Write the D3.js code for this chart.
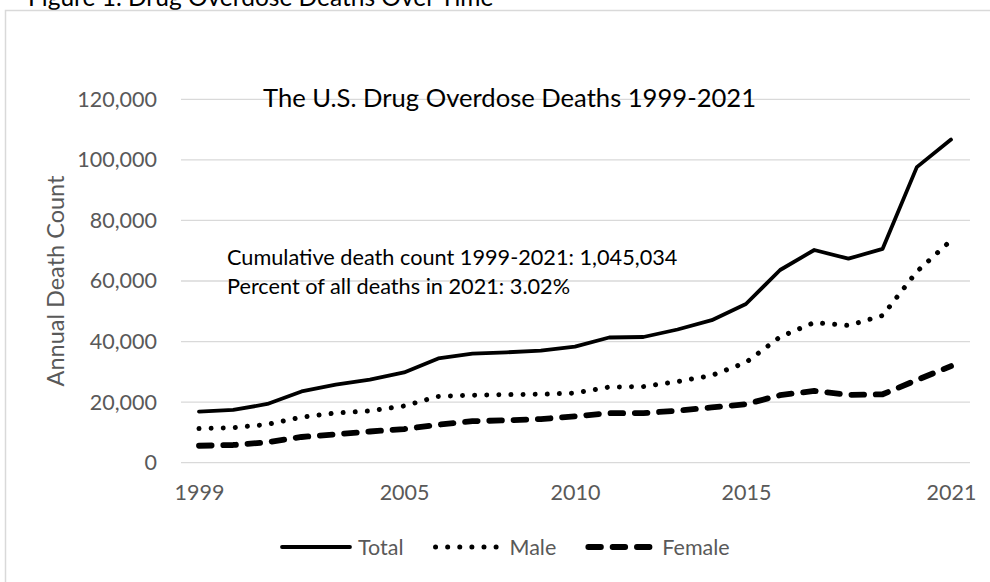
<!DOCTYPE html>
<html>
<head>
<meta charset="utf-8">
<script src="https://cdn.jsdelivr.net/npm/d3@7"></script>
<style>
  html, body { margin: 0; padding: 0; background: #fff; }
  svg { display: block; font-family: Lato, "Open Sans", sans-serif; }
</style>
</head>
<body>
<svg id="chart" width="990" height="582"></svg>
<script>
// ---- data ----
const years = [1999,2000,2001,2002,2003,2004,2005,2006,2007,2008,2009,2010,2011,2012,2013,2014,2015,2016,2017,2018,2019,2020,2021];
const totalDeaths  = [16849,17415,19394,23518,25785,27424,29813,34425,36010,36450,37004,38329,41340,41502,43982,47055,52404,63632,70237,67367,70630,97600,106699];
const maleDeaths   = [11258,11563,12658,15028,16399,17120,18724,21893,22298,22468,22593,23006,24987,25117,26799,28812,33091,41558,46300,45300,48600,63100,73400];
const femaleDeaths = [5591,5852,6736,8490,9386,10304,11089,12532,13712,13982,14411,15323,16353,16385,17183,18243,19313,22300,23700,22400,22600,27300,31900];
const seriesNames  = ["Total","Male","Female"];
const yTicks = [0,20000,40000,60000,80000,100000,120000];
const xTickYears = [1999,2005,2010,2015,2021];
const figureTitle = "Figure 1. Drug Overdose Deaths Over Time";
const chartTitle = "The U.S. Drug Overdose Deaths 1999-2021";
const yAxisTitle = "Annual Death Count";
const notes = ["Cumulative death count 1999-2021: 1,045,034", "Percent of all deaths in 2021: 3.02%"];

// ---- layout ----
const svg = d3.select("#chart");
const plot = {left: 181, right: 970, top: 99.3, bottom: 462.7};
const gray = "#595959", grid = "#d9d9d9";

const x = d3.scaleLinear().domain([1999, 2021]).range([199, 951]);
const y = d3.scaleLinear().domain([0, 120000]).range([plot.bottom, plot.top]);

// figure title (partly cut at top, as in the reference)
svg.append("text").attr("x", 28).attr("y", 6)
  .attr("font-size", 24.5).attr("fill", "#000").text(figureTitle);

// chart border
svg.append("rect").attr("x", 5.5).attr("y", 10.5).attr("width", 990).attr("height", 600)
  .attr("fill", "none").attr("stroke", grid).attr("stroke-width", 1.5);

// gridlines
svg.append("g").selectAll("line").data(yTicks).join("line")
  .attr("x1", plot.left).attr("x2", plot.right)
  .attr("y1", d => y(d)).attr("y2", d => y(d))
  .attr("stroke", grid).attr("stroke-width", 1.3);

// y axis labels
const yAxis = d3.axisLeft(y).tickValues(yTicks).tickSize(0).tickPadding(24)
  .tickFormat(d3.format(","));
const yg = svg.append("g").attr("transform", `translate(${plot.left},0)`).call(yAxis);
yg.select(".domain").remove();
yg.selectAll("text").attr("font-size", 21.5).attr("font-family", "Lato").attr("fill", gray);

// x axis labels
const xAxis = d3.axisBottom(x).tickValues(xTickYears).tickSize(0).tickPadding(22)
  .tickFormat(d3.format("d"));
const xg = svg.append("g").attr("transform", `translate(0,${plot.bottom})`).call(xAxis);
xg.select(".domain").remove();
xg.selectAll("text").attr("font-size", 21.5).attr("font-family", "Lato").attr("fill", gray);

// y axis title
svg.append("text").attr("transform", "translate(64,281) rotate(-90)")
  .attr("text-anchor", "middle").attr("font-size", 23.5).attr("fill", gray).text(yAxisTitle);

// chart title
svg.append("text").attr("x", 263).attr("y", 107)
  .attr("font-size", 25.6).attr("fill", "#000").text(chartTitle);

// notes
svg.append("g").selectAll("text").data(notes).join("text")
  .attr("x", 227).attr("y", (d, i) => 265 + i * 28.5)
  .attr("font-size", 21.7).attr("fill", "#000").text(d => d);

// series
const styles = {
  Total:  {w: 3.8, dash: null, cap: "round"},
  Male:   {w: 5, dash: "0.01 12.1", cap: "round"},
  Female: {w: 5.8, dash: "12.6 11.7", cap: "round"}
};
const seriesData = [totalDeaths, maleDeaths, femaleDeaths];
const line = d3.line().x((d, i) => x(years[i])).y(d => y(d));

svg.append("g").selectAll("path").data(seriesData).join("path")
  .attr("d", d => line(d))
  .attr("fill", "none").attr("stroke", "#000")
  .attr("stroke-width", (d, i) => styles[seriesNames[i]].w)
  .attr("stroke-dasharray", (d, i) => styles[seriesNames[i]].dash)
  .attr("stroke-linecap", (d, i) => styles[seriesNames[i]].cap)
  .attr("stroke-linejoin", "round");

// legend
const leg = svg.append("g").attr("transform", "translate(282,547)");
let cx = 0;
seriesNames.forEach((name, i) => {
  const s = styles[name];
  leg.append("line").attr("x1", cx + (s.dash ? 2 : 0)).attr("x2", cx + 68).attr("y1", 0).attr("y2", 0)
    .attr("stroke", "#000").attr("stroke-width", s.w)
    .attr("stroke-dasharray", s.dash).attr("stroke-linecap", s.cap);
  const t = leg.append("text").attr("x", cx + 76).attr("y", 7.5)
    .attr("font-size", 21.5).attr("fill", gray).text(name);
  cx += 76 + t.node().getComputedTextLength() + 30;
});
</script>
</body>
</html>
